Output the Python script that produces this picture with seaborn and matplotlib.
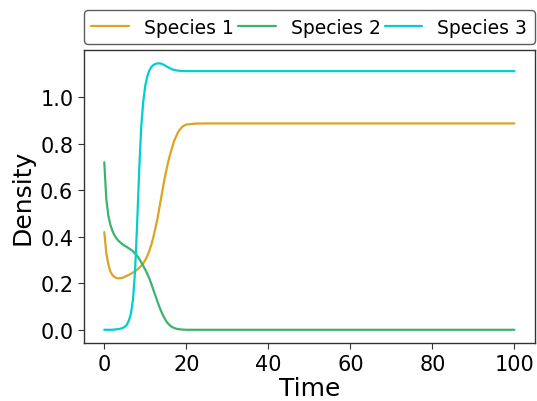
import matplotlib
matplotlib.use("Agg")
import matplotlib.pyplot as plt
import seaborn as sns
import pandas as pd

time = [0, 0.5, 1, 1.5, 2, 2.5, 3, 3.5, 4, 4.5, 5, 5.5, 6, 6.5, 7, 7.5, 8, 8.5,
        9, 9.5, 10, 10.5, 11, 11.5, 12, 12.5, 13, 13.5, 14, 14.5, 15, 15.5, 16,
        16.5, 17, 17.5, 18, 18.5, 19, 19.5, 20, 22, 25, 30, 40, 50, 60, 70, 80, 90, 100]

species1 = [0.42, 0.33, 0.28, 0.25, 0.235, 0.227, 0.222, 0.221, 0.222, 0.224, 0.228,
            0.232, 0.236, 0.241, 0.246, 0.252, 0.258, 0.266, 0.275, 0.286, 0.30,
            0.318, 0.34, 0.367, 0.40, 0.44, 0.48, 0.53, 0.58, 0.63, 0.675, 0.715,
            0.75, 0.78, 0.81, 0.83, 0.85, 0.862, 0.872, 0.878, 0.882, 0.886, 0.887,
            0.887, 0.887, 0.887, 0.887, 0.887, 0.887, 0.887, 0.887]

species2 = [0.72, 0.56, 0.49, 0.45, 0.425, 0.405, 0.392, 0.382, 0.374, 0.367, 0.361,
            0.356, 0.35, 0.344, 0.337, 0.328, 0.318, 0.305, 0.29, 0.275, 0.258,
            0.24, 0.22, 0.196, 0.17, 0.145, 0.12, 0.096, 0.075, 0.056, 0.04, 0.028,
            0.019, 0.012, 0.008, 0.005, 0.003, 0.002, 0.001, 0.0005, 0.0, 0.0, 0.0,
            0.0, 0.0, 0.0, 0.0, 0.0, 0.0, 0.0, 0.0]

species3 = [0.0, 0.0, 0.0, 0.0, 0.0005, 0.001, 0.002, 0.003, 0.005, 0.008, 0.013,
            0.022, 0.04, 0.07, 0.13, 0.25, 0.45, 0.68, 0.87, 0.98, 1.05, 1.09,
            1.115, 1.13, 1.138, 1.143, 1.145, 1.145, 1.143, 1.139, 1.134, 1.129,
            1.124, 1.12, 1.117, 1.115, 1.114, 1.113, 1.112, 1.112, 1.112, 1.112,
            1.112, 1.112, 1.112, 1.112, 1.112, 1.112, 1.112, 1.112, 1.112]

labels = ["Species 1", "Species 2", "Species 3"]
colors = ["#DAA520", "#3CB371", "#00CED1"]

df = pd.DataFrame({"Time": time * 3,
                   "Density": species1 + species2 + species3,
                   "Species": [l for l in labels for _ in time]})

sns.set_style("ticks")
plt.rcParams["font.family"] = ["DejaVu Sans"]
plt.rcParams["text.color"] = "black"
plt.rcParams["axes.labelcolor"] = "black"
plt.rcParams["xtick.color"] = "black"
plt.rcParams["ytick.color"] = "black"

fig = plt.figure(figsize=(5.37, 4.02), dpi=100)
ax = fig.add_axes([0.156, 0.144, 0.840, 0.729])
sns.lineplot(data=df, x="Time", y="Density", hue="Species", palette=colors,
             linewidth=1.6, ax=ax)

for s in ax.spines.values():
    s.set_color("#333333")
    s.set_linewidth(1.0)
ax.tick_params(labelsize=15, color="#333333", labelcolor="black", length=4)
ax.set_xlabel("Time", fontsize=18, labelpad=2)
ax.set_ylabel("Density", fontsize=18)
ax.set_xticks([0, 20, 40, 60, 80, 100])
ax.set_yticks([0.0, 0.2, 0.4, 0.6, 0.8, 1.0])

leg = ax.legend(loc="lower left", bbox_to_anchor=(0, 1.02, 1, 0.1), mode="expand",
                ncol=3, fontsize=13.5, borderaxespad=0, columnspacing=0.0,
                frameon=True, fancybox=True)
leg.get_frame().set_edgecolor("#333333")
leg.get_frame().set_linewidth(1.0)

fig.savefig("out.png", dpi=100)
